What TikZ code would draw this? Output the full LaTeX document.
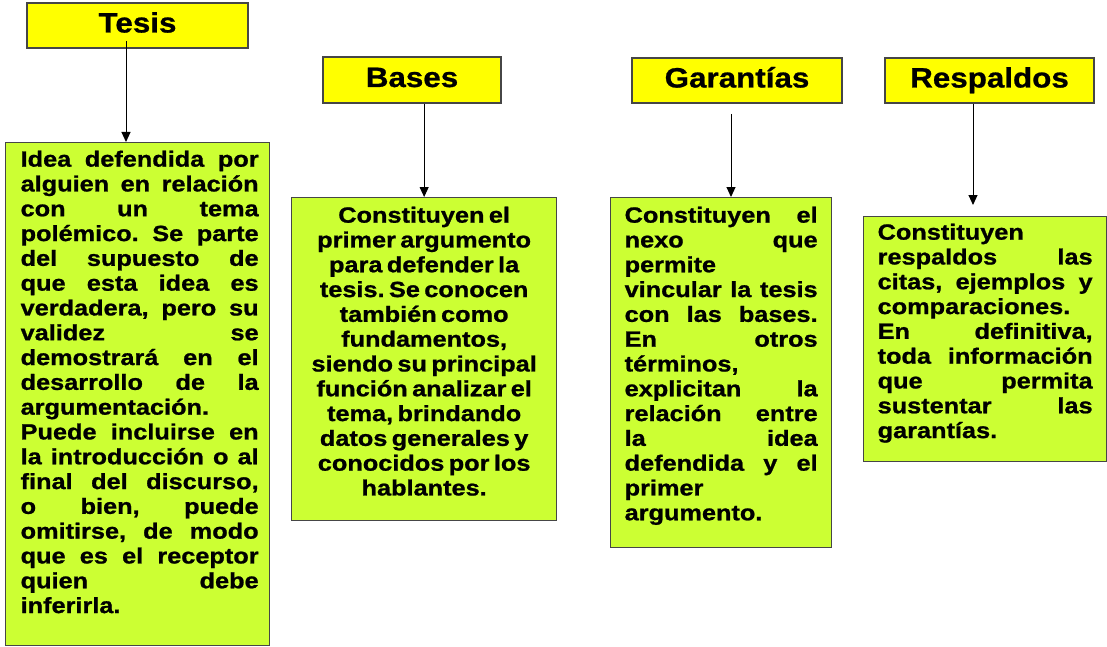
\documentclass[tikz,border=0pt]{standalone}
\usepackage{fontspec}
\usetikzlibrary{arrows.meta}
\newfontfamily\headfont[FakeStretch=1.12,FakeBold=0.8]{Liberation Sans}
\newfontfamily\bodyfont[FakeStretch=1.15,FakeBold=1.0]{Liberation Sans}
\definecolor{hyel}{RGB}{255,255,0}
\definecolor{cgreen}{RGB}{204,255,51}
\definecolor{bord}{RGB}{70,70,70}
\newlength\tw
\newlength\lp
\frenchspacing
\newcommand\bodyf{\bodyfont\bfseries\fontsize{22pt}{24.8pt}\selectfont}
\newcommand\jline[1]{\noindent\hspace*{\lp}\makebox[\tw][s]{\rule{0pt}{17pt}#1}\par}
\newcommand\lline[1]{\noindent\hspace*{\lp}\makebox[\tw][l]{\rule{0pt}{17pt}#1}\par}
\begin{document}
\begin{tikzpicture}[x=1pt,y=-1pt,
  hbox/.style={draw=bord, line width=1.3pt, fill=hyel, inner sep=0pt,
    text height=20pt, text depth=6pt,
    font=\headfont\bfseries\fontsize{28pt}{30pt}\selectfont},
  cbox/.style={draw=bord, line width=1.3pt, fill=cgreen, inner sep=0pt, anchor=north west},
  arr/.style={-{Triangle[length=10pt,width=9pt]}, line width=1pt, draw=black}]
\useasboundingbox (0,0) rectangle (1107,647);

% headers
\node[hbox, minimum width=221pt, minimum height=45pt] (tesis) at (137.5,25.5) {Tesis};
\node[hbox, minimum width=178pt, minimum height=46pt] (bases) at (412,80) {Bases};
\node[hbox, minimum width=210pt, minimum height=45pt] (gar) at (737,80.5) {Garantías};
\node[hbox, minimum width=209pt, minimum height=45pt] (resp) at (989.5,80.5) {Respaldos};

% contents
\node[cbox] (tesisc) at (5,142) {\parbox[t][503pt][t]{264pt}{%
  \setlength\lp{15pt}\setlength\tw{238pt}\setlength\parskip{0pt}\bodyf
  \vspace*{7pt}%
  \jline{Idea defendida por}
  \jline{alguien en relación}
  \jline{con un tema}
  \jline{polémico. Se parte}
  \jline{del supuesto de}
  \jline{que esta idea es}
  \jline{verdadera, pero su}
  \jline{validez se}
  \jline{demostrará en el}
  \jline{desarrollo de la}
  \lline{argumentación.}
  \jline{Puede incluirse en}
  \jline{la introducción o al}
  \jline{final del discurso,}
  \jline{o bien, puede}
  \jline{omitirse, de modo}
  \jline{que es el receptor}
  \jline{quien debe}
  \lline{inferirla.}
}};

\node[cbox] (basesc) at (291,197) {\parbox[t][323pt][t]{265pt}{%
  \setlength\parskip{0pt}\centering\bodyf\spaceskip=0.2em\relax
  \vspace*{8pt}%
  \rule{0pt}{17pt}Constituyen el\\
  primer argumento\\
  para defender la\\
  tesis. Se conocen\\
  también como\\
  fundamentos,\\
  siendo su principal\\
  función analizar el\\
  tema, brindando\\
  datos generales y\\
  conocidos por los\\
  hablantes.\par
}};

\node[cbox] (garc) at (610,197) {\parbox[t][350pt][t]{221pt}{%
  \setlength\lp{14pt}\setlength\tw{193pt}\setlength\parskip{0pt}\bodyf
  \vspace*{8pt}%
  \jline{Constituyen el}
  \jline{nexo que}
  \lline{permite}
  \jline{vincular la tesis}
  \jline{con las bases.}
  \jline{En otros}
  \lline{términos,}
  \jline{explicitan la}
  \jline{relación entre}
  \jline{la idea}
  \jline{defendida y el}
  \lline{primer}
  \lline{argumento.}
}};

\node[cbox] (respc) at (863,216) {\parbox[t][245pt][t]{243pt}{%
  \setlength\lp{14pt}\setlength\tw{215pt}\setlength\parskip{0pt}\bodyf
  \vspace*{6pt}%
  \lline{Constituyen}
  \jline{respaldos las}
  \jline{citas, ejemplos y}
  \lline{comparaciones.}
  \jline{En definitiva,}
  \jline{toda información}
  \jline{que permita}
  \jline{sustentar las}
  \lline{garantías.}
}};

% connectors
\coordinate (ta) at (126,41);
\draw[arr] (ta) -- (ta |- tesisc.north);
\draw[arr] (bases.south -| basesc.north) -- (basesc.north);
\coordinate (ga) at (731,114);
\draw[arr] (ga) -- (ga |- garc.north);
\coordinate (ra) at (973,205);
\draw[arr] (resp.south -| ra) -- (ra);
\end{tikzpicture}
\end{document}
